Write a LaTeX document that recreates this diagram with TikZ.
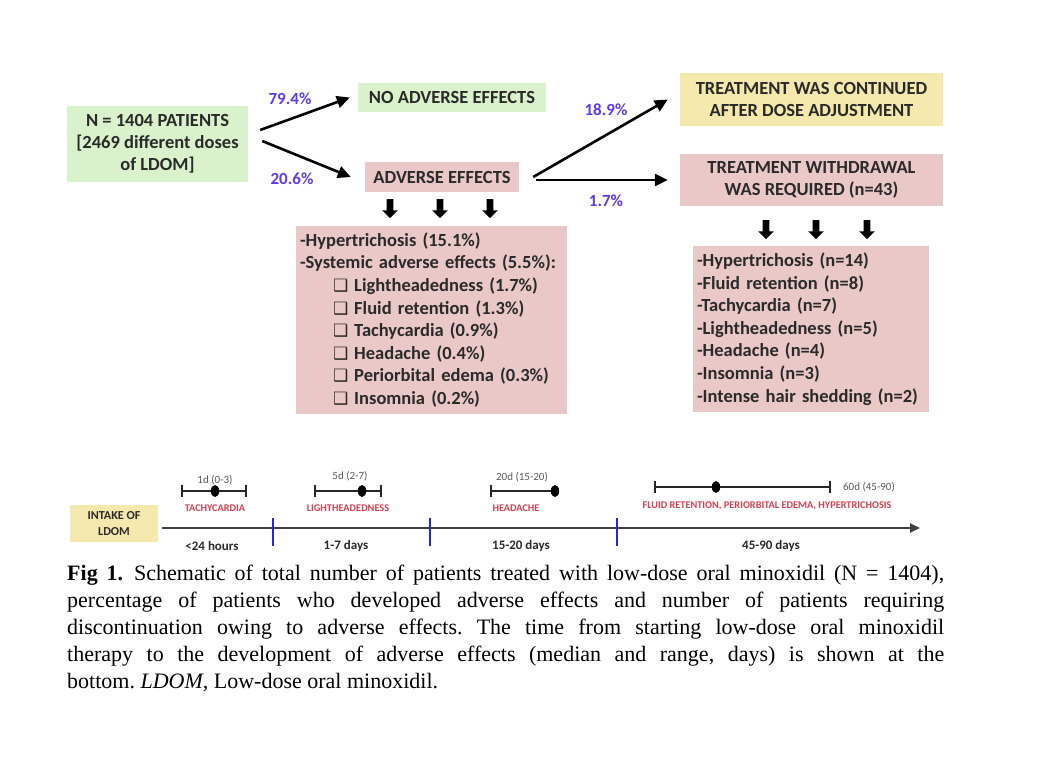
\documentclass[tikz,border=0pt]{standalone}
\usepackage{fontspec}
\setmainfont{Liberation Serif}
\newfontfamily\calfont{Carlito}
\newfontfamily\djfont{DejaVu Sans}
\usetikzlibrary{arrows.meta,shapes.arrows}
\definecolor{boxgreen}{HTML}{DAF2CC}
\definecolor{boxpink}{HTML}{EAC8C8}
\definecolor{boxyellow}{HTML}{F4E8AC}
\definecolor{pctblue}{HTML}{5A3CF0}
\definecolor{txtdark}{HTML}{2A2A2A}
\definecolor{lblred}{HTML}{D8404F}
\definecolor{tickblue}{HTML}{2525E8}
\newcommand{\chkbox}{\hspace*{33pt}{\djfont\fontsize{17}{22}\selectfont ❑}\hspace{6pt}}
\begin{document}
\begin{tikzpicture}[x=1pt,y=-1pt,
  box/.style={inner sep=0pt, font=\calfont\bfseries\fontsize{18.5}{22}\selectfont, text=txtdark, align=center},
  listbox/.style={inner xsep=4pt, inner ysep=0pt, font=\calfont\bfseries\fontsize{18.5}{22.6}\selectfont, text=txtdark, align=left, fill=boxpink},
  pct/.style={font=\calfont\bfseries\fontsize{17}{19}\selectfont, text=pctblue, inner sep=0pt},
  bigarrow/.style={line width=2.6pt, black, -{Triangle[length=13pt,width=12pt]}},
  blockarrow/.style={single arrow, fill=black, draw=none, inner sep=3.2pt, minimum height=19pt, single arrow head extend=4.5pt, shape border rotate=270},
  tl/.style={font=\calfont\bfseries\fontsize{13}{15}\selectfont, text=txtdark, inner sep=0pt},
  tlval/.style={font=\calfont\fontsize{11}{13}\selectfont, text=black!65, inner sep=0pt},
  tlred/.style={font=\calfont\bfseries\fontsize{10.3}{12}\selectfont, text=lblred, inner sep=0pt},
  whisker/.style={line width=1.4pt, black!85},
  tickmark/.style={line width=2.2pt, tickblue},
  dotmark/.style={fill=black}
]
\useasboundingbox (0,0) rectangle (1043,772);
\fill[white] (0,0) rectangle (1043,772);

% top boxes
\node[box, fill=boxgreen, minimum width=181pt, minimum height=76pt] (n) at (157.5,144) {N = 1404 PATIENTS\\{[}2469 different doses\\of LDOM{]}};
\node[box, fill=boxgreen, minimum width=188pt, minimum height=29pt] (noadv) at (452,97.5) {NO ADVERSE EFFECTS};
\node[box, fill=boxpink, minimum width=154pt, minimum height=30pt] (adv) at (442,177) {ADVERSE EFFECTS};
\node[box, fill=boxyellow, minimum width=263pt, minimum height=53pt] (cont) at (811.5,99.5) {TREATMENT WAS CONTINUED\\AFTER DOSE ADJUSTMENT};
\node[box, fill=boxpink, minimum width=263pt, minimum height=52pt] (wd) at (811.5,180) {TREATMENT WITHDRAWAL\\WAS REQUIRED (n=43)};

\draw[bigarrow] ([shift={(12,-14)}]n.east) -- ([xshift=-8]noadv.west);
\draw[bigarrow] ([shift={(14,-3)}]n.east) -- ([xshift=-14]adv.west);
\draw[bigarrow] ([xshift=14]adv.east) -- ([xshift=-12]cont.west);
\draw[bigarrow] ([shift={(17,3)}]adv.east) -- ([xshift=-12]wd.west);

\node[pct] (p1) at (290,99) {79.4\%};
\node[pct] (p2) at (292,179) {20.6\%};
\node[pct] (p3) at (606,110) {18.9\%};
\node[pct] (p4) at (606,201) {1.7\%};

% block arrows
\node[blockarrow] (ba1) at (390,207) {};
\node[blockarrow] (ba2) at (440,207) {};
\node[blockarrow] (ba3) at (490,207) {};
\node[blockarrow] (bb1) at (766,228) {};
\node[blockarrow] (bb2) at (816,228) {};
\node[blockarrow] (bb3) at (867,228) {};

% lists
\node[listbox, text width=263pt, minimum height=188pt] (advlist) at (431.5,320) {%
-Hypertrichosis (15.1\%)\\
-Systemic adverse effects (5.5\%):\\
\chkbox Lightheadedness (1.7\%)\\
\chkbox Fluid retention (1.3\%)\\
\chkbox Tachycardia (0.9\%)\\
\chkbox Headache (0.4\%)\\
\chkbox Periorbital edema (0.3\%)\\
\chkbox Insomnia (0.2\%)};
\node[listbox, text width=228pt, minimum height=166pt] (wdlist) at (811,329) {%
-Hypertrichosis (n=14)\\
-Fluid retention (n=8)\\
-Tachycardia (n=7)\\
-Lightheadedness (n=5)\\
-Headache (n=4)\\
-Insomnia (n=3)\\
-Intense hair shedding (n=2)};

% timeline
\node[box, fill=boxyellow, minimum width=88pt, minimum height=37pt, font=\calfont\bfseries\fontsize{12.2}{16}\selectfont] (intake) at (114,523.5) {INTAKE OF\\LDOM};
\coordinate (t0) at (162,528);
\coordinate (t1) at (920,528);
\draw[line width=1.8pt, black!75, -{Triangle[length=10pt,width=9pt]}] (t0) -- (t1);
\foreach \x/\nm in {273/k1,430/k2,617/k3}{
  \coordinate (\nm a) at (\x,518);
  \coordinate (\nm b) at (\x,546);
  \draw[tickmark] (\nm a) -- (\nm b);
}
\node[tl] (l1) at (212,546) {<24 hours};
\node[tl] (l2) at (346,546) {1-7 days};
\node[tl] (l3) at (521,546) {15-20 days};
\node[tl] (l4) at (771,546) {45-90 days};

% whiskers
\coordinate (w1a) at (182,491); \coordinate (w1b) at (246,491);
\draw[whisker] (w1a) -- (w1b) (182,485) -- (182,497) (246,485) -- (246,497);
\fill[dotmark] (215,491) ellipse (4.2pt and 6pt);
\node[tlval] (v1) at (215,480) {1d (0-3)};
\node[tlred] (r1) at (215,508) {TACHYCARDIA};

\coordinate (w2a) at (315,491); \coordinate (w2b) at (381,491);
\draw[whisker] (w2a) -- (w2b) (315,485) -- (315,497) (381,485) -- (381,497);
\fill[dotmark] (362,491) ellipse (4.2pt and 6pt);
\node[tlval] (v2) at (350,476) {5d (2-7)};
\node[tlred] (r2) at (348,508) {LIGHTHEADEDNESS};

\coordinate (w3a) at (491,491); \coordinate (w3b) at (554,491);
\draw[whisker] (w3a) -- (w3b) (491,485) -- (491,497);
\fill[dotmark] (555,491) ellipse (4.2pt and 6pt);
\node[tlval] (v3) at (522,477) {20d (15-20)};
\node[tlred] (r3) at (516,508) {HEADACHE};

\coordinate (w4a) at (655,487); \coordinate (w4b) at (830,487);
\draw[whisker] (w4a) -- (w4b) (655,481) -- (655,493) (830,481) -- (830,493);
\fill[dotmark] (716,487) ellipse (4.2pt and 6pt);
\node[tlval] (v4) at (869,487) {60d (45-90)};
\node[tlred] (r4) at (767,506) {FLUID RETENTION, PERIORBITAL EDEMA, HYPERTRICHOSIS};

% caption
\node[anchor=north west, inner sep=0pt, text width=877pt, align=justify, font=\fontsize{22}{27}\selectfont\frenchspacing] (cap) at (67,565) {%
{\bfseries Fig 1.}\enspace Schematic of total number of patients treated with low-dose oral minoxidil (N = 1404),\linebreak
percentage of patients who developed adverse effects and number of patients requiring\linebreak
discontinuation owing to adverse effects. The time from starting low-dose oral minoxidil\linebreak
therapy to the development of adverse effects (median and range, days) is shown at the\linebreak
bottom. \textit{LDOM,} Low-dose oral minoxidil.};
\end{tikzpicture}
\end{document}
